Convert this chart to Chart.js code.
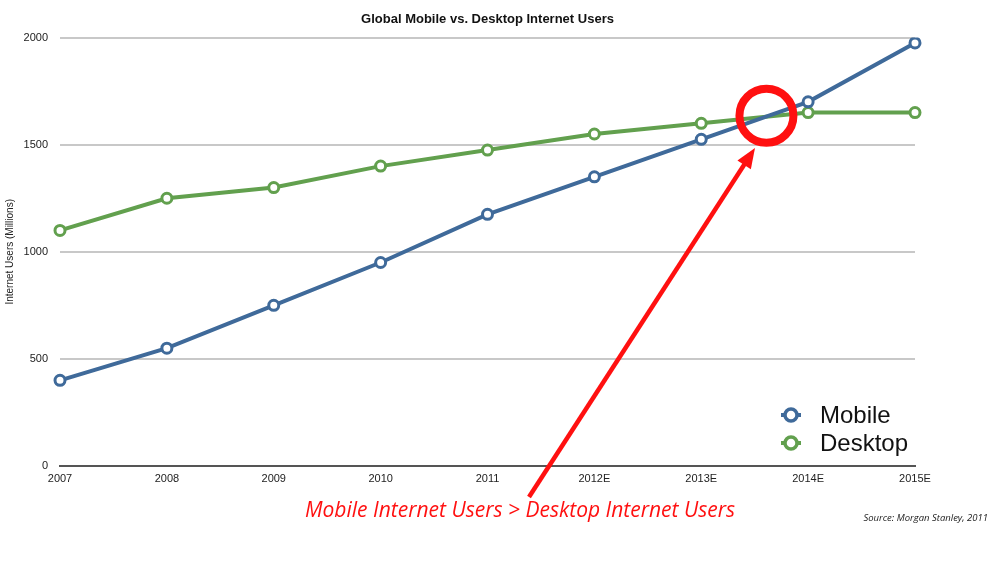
<!DOCTYPE html>
<html>
<head>
<meta charset="utf-8">
<script src="https://cdn.jsdelivr.net/npm/chart.js@4.4.0/dist/chart.umd.min.js"></script>
<style>
  html, body { margin: 0; padding: 0; background: #fff; }
  #wrap { width: 1008px; height: 564px; }
</style>
</head>
<body>
<div id="wrap"><canvas id="chart"></canvas></div>
<script>
let years = ["2007", "2008", "2009", "2010", "2011", "2012E", "2013E", "2014E", "2015E"];
let mobileUsers = [400, 550, 750, 950, 1175, 1350, 1525, 1700, 1975];
let desktopUsers = [1100, 1250, 1300, 1400, 1475, 1550, 1600, 1650, 1650];
let yTicks = [0, 500, 1000, 1500, 2000];

const blue = "#3F6A9A";
const green = "#62A04E";

// legend, red callout and source note, drawn after the chart
const overlay = {
  id: "overlay",
  afterDraw(chart) {
    const ctx = chart.ctx;
    const x = chart.scales.x;
    const y = chart.scales.y;
    ctx.save();

    // legend in the lower right of the plot
    chart.data.datasets.forEach((ds, i) => {
      const ly = 415 + i * 28;
      ctx.strokeStyle = ds.borderColor;
      ctx.lineWidth = 4;
      ctx.beginPath();
      ctx.moveTo(781, ly);
      ctx.lineTo(801, ly);
      ctx.stroke();
      ctx.fillStyle = "#fff";
      ctx.lineWidth = 3.5;
      ctx.beginPath();
      ctx.arc(791, ly, 6, 0, Math.PI * 2);
      ctx.fill();
      ctx.stroke();
      ctx.fillStyle = "#111";
      ctx.font = "24px 'Liberation Sans', Arial, sans-serif";
      ctx.textBaseline = "middle";
      ctx.fillText(ds.label, 820, ly + 1);
    });

    // red ring where the two lines cross
    const x6 = x.getPixelForValue(6);
    const x7 = x.getPixelForValue(7);
    const cx = x6 + 0.61 * (x7 - x6);
    const cy = y.getPixelForValue(1635);
    ctx.strokeStyle = "#FF1010";
    ctx.lineWidth = 8;
    ctx.beginPath();
    ctx.arc(cx, cy, 27, 0, Math.PI * 2);
    ctx.stroke();

    // arrow from the caption up to the ring
    const tx = 529, ty = 497;
    const hx = 755, hy = 148;
    const ang = Math.atan2(hy - ty, hx - tx);
    ctx.lineWidth = 4.5;
    ctx.beginPath();
    ctx.moveTo(tx, ty);
    ctx.lineTo(hx - 14 * Math.cos(ang), hy - 14 * Math.sin(ang));
    ctx.stroke();
    ctx.fillStyle = "#FF1010";
    ctx.beginPath();
    ctx.moveTo(hx, hy);
    ctx.lineTo(hx - 20 * Math.cos(ang) + 8 * Math.sin(ang), hy - 20 * Math.sin(ang) - 8 * Math.cos(ang));
    ctx.lineTo(hx - 20 * Math.cos(ang) - 8 * Math.sin(ang), hy - 20 * Math.sin(ang) + 8 * Math.cos(ang));
    ctx.closePath();
    ctx.fill();

    ctx.font = "italic 21px 'Open Sans', 'Liberation Sans', sans-serif";
    ctx.textBaseline = "middle";
    ctx.textAlign = "center";
    ctx.fillText("Mobile Internet Users > Desktop Internet Users", 520, 511);

    ctx.fillStyle = "#222";
    ctx.font = "italic 9.5px 'Open Sans', 'Liberation Sans', sans-serif";
    ctx.textAlign = "right";
    ctx.fillText("Source: Morgan Stanley, 2011", 988, 518);

    ctx.restore();
  },
};

let chart1 = new Chart(document.querySelector("#chart"), {
  type: "line",
  data: {
    labels: years,
    datasets: [
      {
        label: "Mobile",
        data: mobileUsers,
        borderColor: blue,
        backgroundColor: "#fff",
        borderWidth: 4,
        pointRadius: 5,
        pointBorderWidth: 3,
        pointBackgroundColor: "#fff",
        tension: 0,
      },
      {
        label: "Desktop",
        data: desktopUsers,
        borderColor: green,
        backgroundColor: "#fff",
        borderWidth: 4,
        pointRadius: 5,
        pointBorderWidth: 3,
        pointBackgroundColor: "#fff",
        tension: 0,
      },
    ],
  },
  options: {
    responsive: true,
    maintainAspectRatio: false,
    animation: false,
    layout: { padding: { top: 0, right: 93, left: 0, bottom: 0 } },
    plugins: {
      legend: { display: false },
      tooltip: { enabled: false },
      title: {
        display: true,
        text: "Global Mobile vs. Desktop Internet Users",
        color: "#111",
        font: { family: "'Liberation Sans', Arial, sans-serif", size: 13, weight: "bold" },
        padding: { top: 12, bottom: 10 },
        fullSize: false,
      },
    },
    scales: {
      x: {
        offset: false,
        grid: { display: false, drawTicks: false },
        border: { display: true, color: "#555", width: 2 },
        ticks: {
          color: "#222",
          font: { family: "'Liberation Sans', Arial, sans-serif", size: 11 },
          padding: 6,
          maxRotation: 0,
          autoSkip: false,
        },
        afterFit(scale) {
          scale.height = 98;
        },
      },
      y: {
        min: 0,
        max: 2000,
        afterBuildTicks(scale) {
          scale.ticks = yTicks.map((v) => ({ value: v }));
        },
        grid: { color: "#C8C8C8", lineWidth: 2, drawTicks: false },
        border: { display: false },
        ticks: {
          color: "#222",
          font: { family: "'Liberation Sans', Arial, sans-serif", size: 11 },
          padding: 12,
          callback: (v) => String(v),
        },
        title: {
          display: true,
          text: "Internet Users (Millions)",
          color: "#222",
          font: { family: "'Liberation Sans', Arial, sans-serif", size: 10 },
          padding: { top: 4, bottom: 0 },
        },
        afterFit(scale) {
          scale.width = 60;
        },
      },
    },
  },
  plugins: [overlay],
});
</script>
</body>
</html>
